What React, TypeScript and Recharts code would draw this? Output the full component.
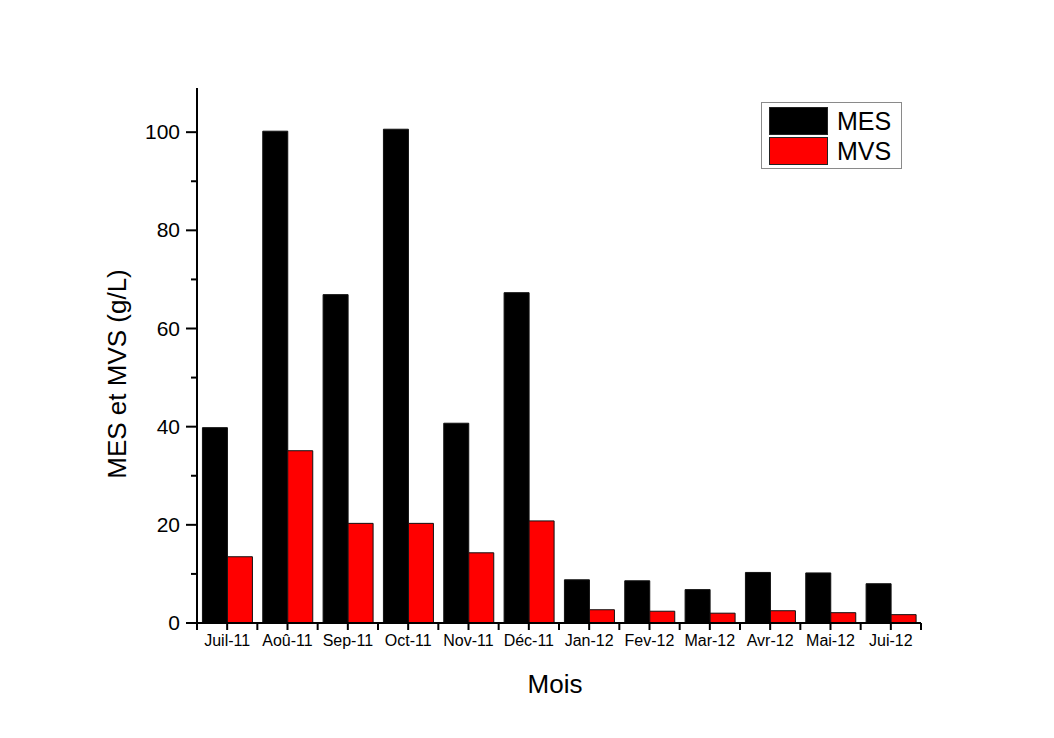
import { BarChart, Bar, XAxis, YAxis, Legend, Label } from 'recharts'

const months = ['Juil-11', 'Aoû-11', 'Sep-11', 'Oct-11', 'Nov-11', 'Déc-11', 'Jan-12', 'Fev-12', 'Mar-12', 'Avr-12', 'Mai-12', 'Jui-12']
const mes = [39.8, 100.2, 66.9, 100.6, 40.7, 67.3, 8.8, 8.6, 6.8, 10.3, 10.2, 8.0]
const mvs = [13.5, 35.1, 20.3, 20.3, 14.3, 20.8, 2.7, 2.4, 2.0, 2.5, 2.1, 1.7]
const yTicks = [0, 10, 20, 30, 40, 50, 60, 70, 80, 90, 100]

const data = months.map((m, i) => ({ mois: m, MES: mes[i], MVS: mvs[i] }))

const W = 1054
const H = 738
const LEFT = 197
const RIGHT = 921
const TOP = 88
const BOTTOM = 623
const STEP = (RIGHT - LEFT) / months.length
const FONT = '"Liberation Sans", Arial, sans-serif'

function YTick(props: any) {
  const { x, y, payload } = props
  const major = payload.value % 20 === 0
  const len = major ? 11 : 6
  return (
    <g>
      <line x1={x - len} x2={x} y1={y} y2={y} stroke="#000" strokeWidth={2} />
      {major && (
        <text x={x - 17} y={y} dy={7} textAnchor="end" fontSize={21} fontFamily={FONT} fill="#000">
          {payload.value}
        </text>
      )}
    </g>
  )
}

function XTick(props: any) {
  const { x, y, payload, index } = props
  return (
    <g>
      <line x1={x} x2={x} y1={y} y2={y + 7} stroke="#000" strokeWidth={2} />
      <line x1={x - STEP / 2} x2={x - STEP / 2} y1={y} y2={y + 7} stroke="#000" strokeWidth={2} />
      {index === months.length - 1 && (
        <line x1={x + STEP / 2} x2={x + STEP / 2} y1={y} y2={y + 7} stroke="#000" strokeWidth={2} />
      )}
      <text x={x} y={y + 23} textAnchor="middle" fontSize={16} fontFamily={FONT} fill="#000">
        {payload.value}
      </text>
    </g>
  )
}

function LegendBox() {
  const items = [
    { name: 'MES', color: '#000000' },
    { name: 'MVS', color: '#ff0000' },
  ]
  return (
    <div
      style={{
        width: 141,
        height: 67,
        border: '1px solid #8a8a8a',
        background: '#fff',
        boxSizing: 'border-box',
        padding: '3px 0 0 7px',
        fontFamily: FONT,
      }}
    >
      {items.map((it) => (
        <div key={it.name} style={{ display: 'flex', alignItems: 'center', height: 30 }}>
          <div
            style={{
              width: 59,
              height: 28,
              background: it.color,
              border: '1px solid #222',
              boxSizing: 'border-box',
            }}
          />
          <span style={{ marginLeft: 9, fontSize: 25, color: '#000', lineHeight: '28px' }}>{it.name}</span>
        </div>
      ))}
    </div>
  )
}

export default function App() {
  return (
    <div style={{ position: 'absolute', left: 0, top: 0, width: W, height: H, background: '#fff' }}>
      <BarChart
        width={W}
        height={H}
        data={data}
        margin={{ top: TOP, right: W - RIGHT, left: LEFT - 60, bottom: H - BOTTOM - 30 }}
        barCategoryGap="9%"
        barGap={0}
      >
        <XAxis
          dataKey="mois"
          height={30}
          interval={0}
          tickSize={0}
          tickMargin={0}
          tick={<XTick />}
          axisLine={{ stroke: '#000', strokeWidth: 2 }}
          tickLine={false}
        >
          <Label
            content={() => (
              <text x={555} y={693} textAnchor="middle" fontSize={26} fontFamily={FONT} fill="#000">
                Mois
              </text>
            )}
          />
        </XAxis>
        <YAxis
          width={60}
          domain={[0, 109]}
          ticks={yTicks}
          interval={0}
          allowDataOverflow
          tickSize={0}
          tickMargin={0}
          tick={<YTick />}
          axisLine={{ stroke: '#000', strokeWidth: 2 }}
          tickLine={false}
        >
          <Label
            content={() => (
              <text
                x={126}
                y={374}
                transform="rotate(-90 126 374)"
                textAnchor="middle"
                fontSize={26}
                fontFamily={FONT}
                fill="#000"
              >
                MES et MVS (g/L)
              </text>
            )}
          />
        </YAxis>
        <Legend
          content={<LegendBox />}
          layout="vertical"
          verticalAlign="middle"
          align="center"
          wrapperStyle={{ left: 761, top: 102, width: 141 }}
        />
        <Bar dataKey="MES" fill="#000000" stroke="#111" strokeWidth={1} isAnimationActive={false} />
        <Bar dataKey="MVS" fill="#ff0000" stroke="#111" strokeWidth={1} isAnimationActive={false} />
      </BarChart>
    </div>
  )
}
